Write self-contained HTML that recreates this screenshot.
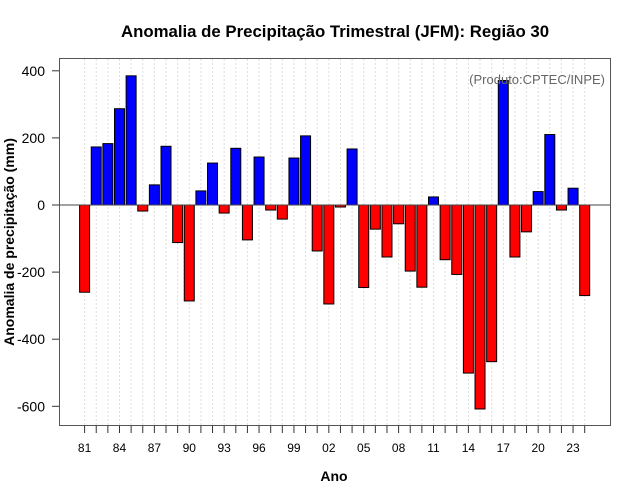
<!DOCTYPE html>
<html><head><meta charset="utf-8"><style>
body{margin:0;background:#fff}
svg{display:block;font-family:"Liberation Sans",sans-serif}
</style></head><body>
<svg id="chart" width="640" height="500">
<rect x="0" y="0" width="640" height="500" fill="#fff"/>
<text x="335" y="37" text-anchor="middle" font-size="16.8" font-weight="bold">Anomalia de Precipitação Trimestral (JFM): Região 30</text>
<text transform="translate(14,242) rotate(-90)" text-anchor="middle" font-size="14" font-weight="bold">Anomalia de precipitação (mm)</text>
<text x="334" y="481" text-anchor="middle" font-size="14" font-weight="bold">Ano</text>
<g id="grid"></g>
<g id="bars"></g>
<line x1="59" x2="610" y1="205" y2="205" stroke="#444" stroke-width="1" id="zero"/>
<rect x="59.5" y="58.5" width="551" height="367" fill="none" stroke="#555"/>
<g id="yaxis"></g>
<g id="xaxis"></g>
<text x="605" y="84" text-anchor="end" font-size="13" fill="#666">(Produto:CPTEC/INPE)</text>
</svg>
<script>
const years = [1981,1982,1983,1984,1985,1986,1987,1988,1989,1990,1991,1992,1993,1994,1995,1996,1997,1998,1999,2000,2001,2002,2003,2004,2005,2006,2007,2008,2009,2010,2011,2012,2013,2014,2015,2016,2017,2018,2019,2020,2021,2022,2023,2024];
const anomalies = [-260,173,183,287,385,-18,60,175,-112,-286,42,125,-24,169,-104,143,-15,-42,140,206,-137,-295,-6,167,-246,-72,-155,-56,-197,-245,24,-163,-207,-501,-608,-467,371,-155,-80,40,210,-15,50,-270];
const yTicks = [400,200,0,-200,-400,-600];
const xLabelYears = [1981,1984,1987,1990,1993,1996,1999,2002,2005,2008,2011,2014,2017,2020,2023];
const NS="http://www.w3.org/2000/svg";
const xs = y => 84.6 + (y-1981)*11.63;
const ys = v => 205 - v*0.3355;
const grid=document.getElementById('grid'), bars=document.getElementById('bars'), ya=document.getElementById('yaxis'), xa=document.getElementById('xaxis');
function mk(tag,attrs,parent){const e=document.createElementNS(NS,tag);for(const k in attrs)e.setAttribute(k,attrs[k]);parent.appendChild(e);return e;}
years.forEach((yr,i)=>{
  const x=xs(yr);
  const g=mk('line',{x1:x,x2:x,y1:59,y2:425,stroke:'#ddd','stroke-dasharray':'2,2'},grid);
  
  
  const v=anomalies[i];
  const top=Math.min(ys(v),ys(0)), h=Math.abs(ys(v)-ys(0));
  const b=mk('rect',{x:x-5,y:top,width:10,height:h,fill:v>=0?'#0000ff':'#ff0000',stroke:'#000','stroke-width':1},bars);
  
  
  const t=mk('line',{x1:x,x2:x,y1:426,y2:433,stroke:'#333'},xa);
  
  
});
xLabelYears.forEach(yr=>{
  const t=mk('text',{x:xs(yr),y:452,'text-anchor':'middle','font-size':12},xa);
  t.textContent=String(yr%100).padStart(2,'0');
  
  
});
yTicks.forEach(v=>{
  const y=ys(v);
  const l=mk('line',{x1:52,x2:59,y1:y,y2:y,stroke:'#333'},ya);
  
  
  const t=mk('text',{x:45,y:y+5,'text-anchor':'end','font-size':14},ya);
  t.textContent=v;
  
  
});
</script>
</body></html>
